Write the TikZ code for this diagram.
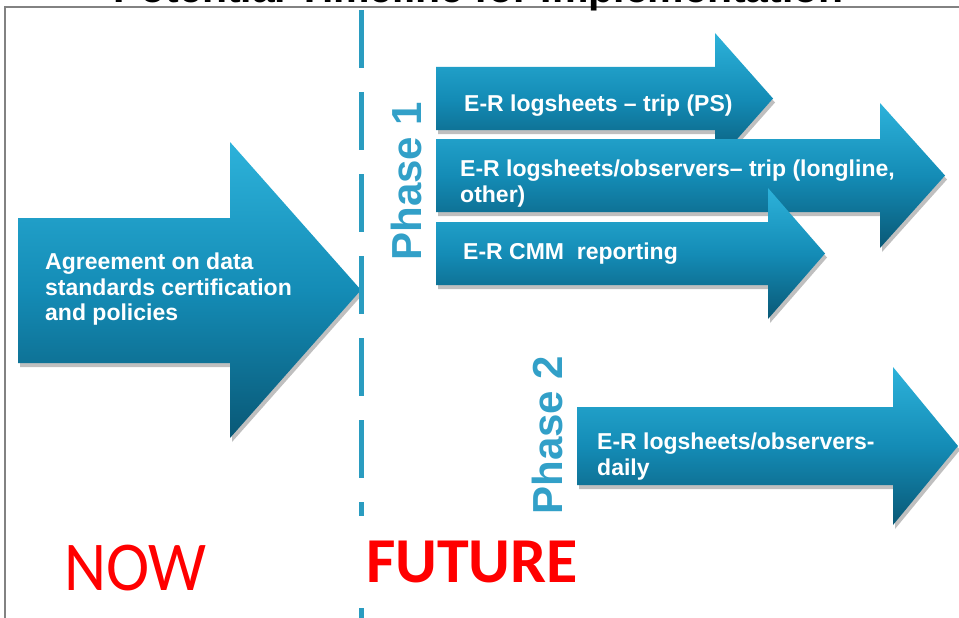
\documentclass[tikz,border=0pt]{standalone}
\usepackage{fontspec}
\setmainfont{Liberation Sans}
\newfontfamily\calfont{Carlito}
\usetikzlibrary{shadows}

\definecolor{arrowtop}{RGB}{45,178,218}
\definecolor{arrowmid}{RGB}{20,140,182}
\definecolor{arrowbot}{RGB}{9,88,118}
\definecolor{dashteal}{RGB}{42,156,192}
\definecolor{phaseblue}{RGB}{50,160,200}
\definecolor{framegray}{RGB}{130,130,130}
\definecolor{nowred}{RGB}{255,0,0}

\begin{document}
\begin{tikzpicture}[x=1pt,y=-1pt,
  blockarrow/.style={top color=arrowtop, bottom color=arrowbot, middle color=arrowmid, draw=none,
    drop shadow={shadow xshift=2pt, shadow yshift=-4pt, opacity=0.25, fill=black}},
  arrowtext/.style={text=white, font=\bfseries\fontsize{23}{25.5}\selectfont, align=left, inner sep=0pt, anchor=north west},
  phaselabel/.style={text=phaseblue, font=\bfseries\fontsize{42}{42}\selectfont, rotate=90, inner sep=0pt},
]
\useasboundingbox (0,0) rectangle (959,618);
\fill[white] (0,0) rectangle (959,618);

% frame
\draw[framegray, line width=2pt] (959,7) -- (5,7) -- (5,618);

% title (cut off at the top, as in the reference)
\node[font=\bfseries\fontsize{41}{41}\selectfont, anchor=base, inner sep=0pt] (title) at (478.5,3) {Potential Timeline for Implementation};

% big NOW arrow
\path[blockarrow] (18,218) -- (230,218) -- (230,142) -- (361,290) -- (230,438) -- (230,363) -- (18,363) -- cycle;

% dashed divider
\draw[dashteal, line width=5pt, dash pattern=on 58pt off 24pt] (361,10) -- (361,618);

% phase 1 arrows
\path[blockarrow] (436,67) -- (715,67) -- (715,33) -- (773,98.5) -- (715,164) -- (715,130) -- (436,130) -- cycle;
\path[blockarrow] (436,139) -- (880,139) -- (880,103) -- (945,175.5) -- (880,248) -- (880,212) -- (436,212) -- cycle;
\path[blockarrow] (436,222) -- (768,222) -- (768,188) -- (825,253.5) -- (768,319) -- (768,285) -- (436,285) -- cycle;

% phase 2 arrow
\path[blockarrow] (577,407) -- (893,407) -- (893,367) -- (958,446) -- (893,525) -- (893,485) -- (577,485) -- cycle;

% texts
\node[arrowtext] (agree) at (45,253) {Agreement on data\\standards certification\\and policies};
\node[arrowtext] (t1) at (464,95) {E-R logsheets – trip (PS)};
\node[arrowtext] (t2) at (460,160) {E-R logsheets/observers– trip (longline,\\other)};
\node[arrowtext] (t3) at (463,243) {E-R CMM\ \ reporting};
\node[arrowtext] (t4) at (597,433) {E-R logsheets/observers-\\daily};

\node[phaselabel] (phase1) at (406,181) {Phase 1};
\node[phaselabel] (phase2) at (547,435) {Phase 2};

% NOW / FUTURE
\node[text=nowred, font=\calfont\fontsize{70}{70}\selectfont, xscale=0.93, anchor=base west, inner sep=0pt] (now) at (64,590) {NOW};
\node[fill=white, minimum width=236pt, minimum height=92pt, inner sep=0pt, text=nowred,
      font=\calfont\bfseries\fontsize{64}{64}\selectfont] (future) at (472,562) {FUTURE};
\end{tikzpicture}
\end{document}
